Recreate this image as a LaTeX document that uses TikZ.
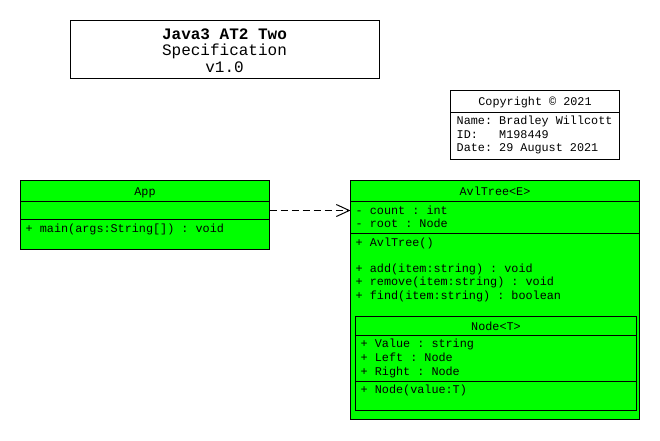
\documentclass[tikz,border=0pt]{standalone}
\usepackage{fontspec}
\newfontfamily\mono{Liberation Mono}
\usetikzlibrary{arrows.meta}
\definecolor{umlgreen}{HTML}{00FF00}
\definecolor{txt}{HTML}{000000}
\tikzset{
  box/.style={draw=black, line width=1pt, anchor=north west, inner sep=0pt, outer sep=0pt},
  classbox/.style={box, fill=umlgreen},
  sep/.style={draw=black, line width=1pt},
  txtl/.style={anchor=base west, inner sep=0pt, text=txt, font=\mono\frenchspacing\fontsize{11.8}{14}\selectfont},
  txtc/.style={anchor=base, inner sep=0pt, text=txt, font=\mono\frenchspacing\fontsize{11.8}{14}\selectfont},
  title/.style={anchor=base, inner sep=0pt, text=txt, font=\mono\frenchspacing\fontsize{16}{18}\selectfont},
  dep/.style={draw=black, line width=1pt, dash pattern=on 7pt off 4pt, -{Straight Barb[length=13pt,width=12pt,line width=1pt]}}
}
\begin{document}
\begin{tikzpicture}[x=1pt,y=-1pt]
\useasboundingbox (0,0) rectangle (660,440);
% Title box
\node[box, fill=white, minimum width=309pt, minimum height=58pt] (titlebox) at (70.5,20.5) {};
\node[title, font=\mono\frenchspacing\bfseries\fontsize{16}{18}\selectfont] (t1) at (224.5,39.5) {Java3 AT2 Two};
\node[title] (t2) at (224.5,55.5) {Specification};
\node[title] (t3) at (224.5,72.5) {v1.0};
% Copyright box
\node[box, fill=white, minimum width=169pt, minimum height=69pt] (copy) at (450.5,90.5) {};
\draw[sep] (copy.west |- 0,112.5) -- (copy.east |- 0,112.5);
\node[txtc] (c1) at (535,105.7) {Copyright \textcopyright{} 2021};
\node[txtl] (c2) at (456.5,124.7) {Name: Bradley Willcott};
\node[txtl] (c3) at (456.5,138.3) {ID:\ \ \ M198449};
\node[txtl] (c4) at (456.5,151.5) {Date: 29 August 2021};
% App
\node[classbox, minimum width=249pt, minimum height=69pt] (app) at (20.5,180.5) {};
\draw[sep] (app.west |- 0,201.5) -- (app.east |- 0,201.5);
\draw[sep] (app.west |- 0,219.5) -- (app.east |- 0,219.5);
\node[txtc] (appname) at (145,195) {App};
\node[txtl] (appm) at (25.5,232) {+ main(args:String[]) : void};
% AvlTree
\node[classbox, minimum width=289pt, minimum height=239pt] (avl) at (350.5,180.5) {};
\draw[sep] (avl.west |- 0,201.5) -- (avl.east |- 0,201.5);
\draw[sep] (avl.west |- 0,233.5) -- (avl.east |- 0,233.5);
\node[txtc] (avlname) at (495,195) {AvlTree<E>};
\node[txtl] (a1) at (355.5,214.5) {- count : int};
\node[txtl] (a2) at (355.5,227.5) {- root : Node};
\node[txtl] (m1) at (355.5,246) {+ AvlTree()};
\node[txtl] (m2) at (355.5,272.3) {+ add(item:string) : void};
\node[txtl] (m3) at (355.5,285.5) {+ remove(item:string) : void};
\node[txtl] (m4) at (355.5,299) {+ find(item:string) : boolean};
% Node<T>
\node[classbox, minimum width=281pt, minimum height=94pt] (nodet) at (355.5,316.5) {};
\draw[sep] (nodet.west |- 0,335.5) -- (nodet.east |- 0,335.5);
\draw[sep] (nodet.west |- 0,381.5) -- (nodet.east |- 0,381.5);
\node[txtc] (nodename) at (496,330) {Node<T>};
\node[txtl] (n1) at (360.5,347.7) {+ Value : string};
\node[txtl] (n2) at (360.5,361.5) {+ Left : Node};
\node[txtl] (n3) at (360.5,375) {+ Right : Node};
\node[txtl] (n4) at (360.5,393.7) {+ Node(value:T)};
% Dependency
\coordinate (ay) at (0,210.5);
\draw[dep] (app.east |- ay) -- (avl.west |- ay);
\end{tikzpicture}
\end{document}
